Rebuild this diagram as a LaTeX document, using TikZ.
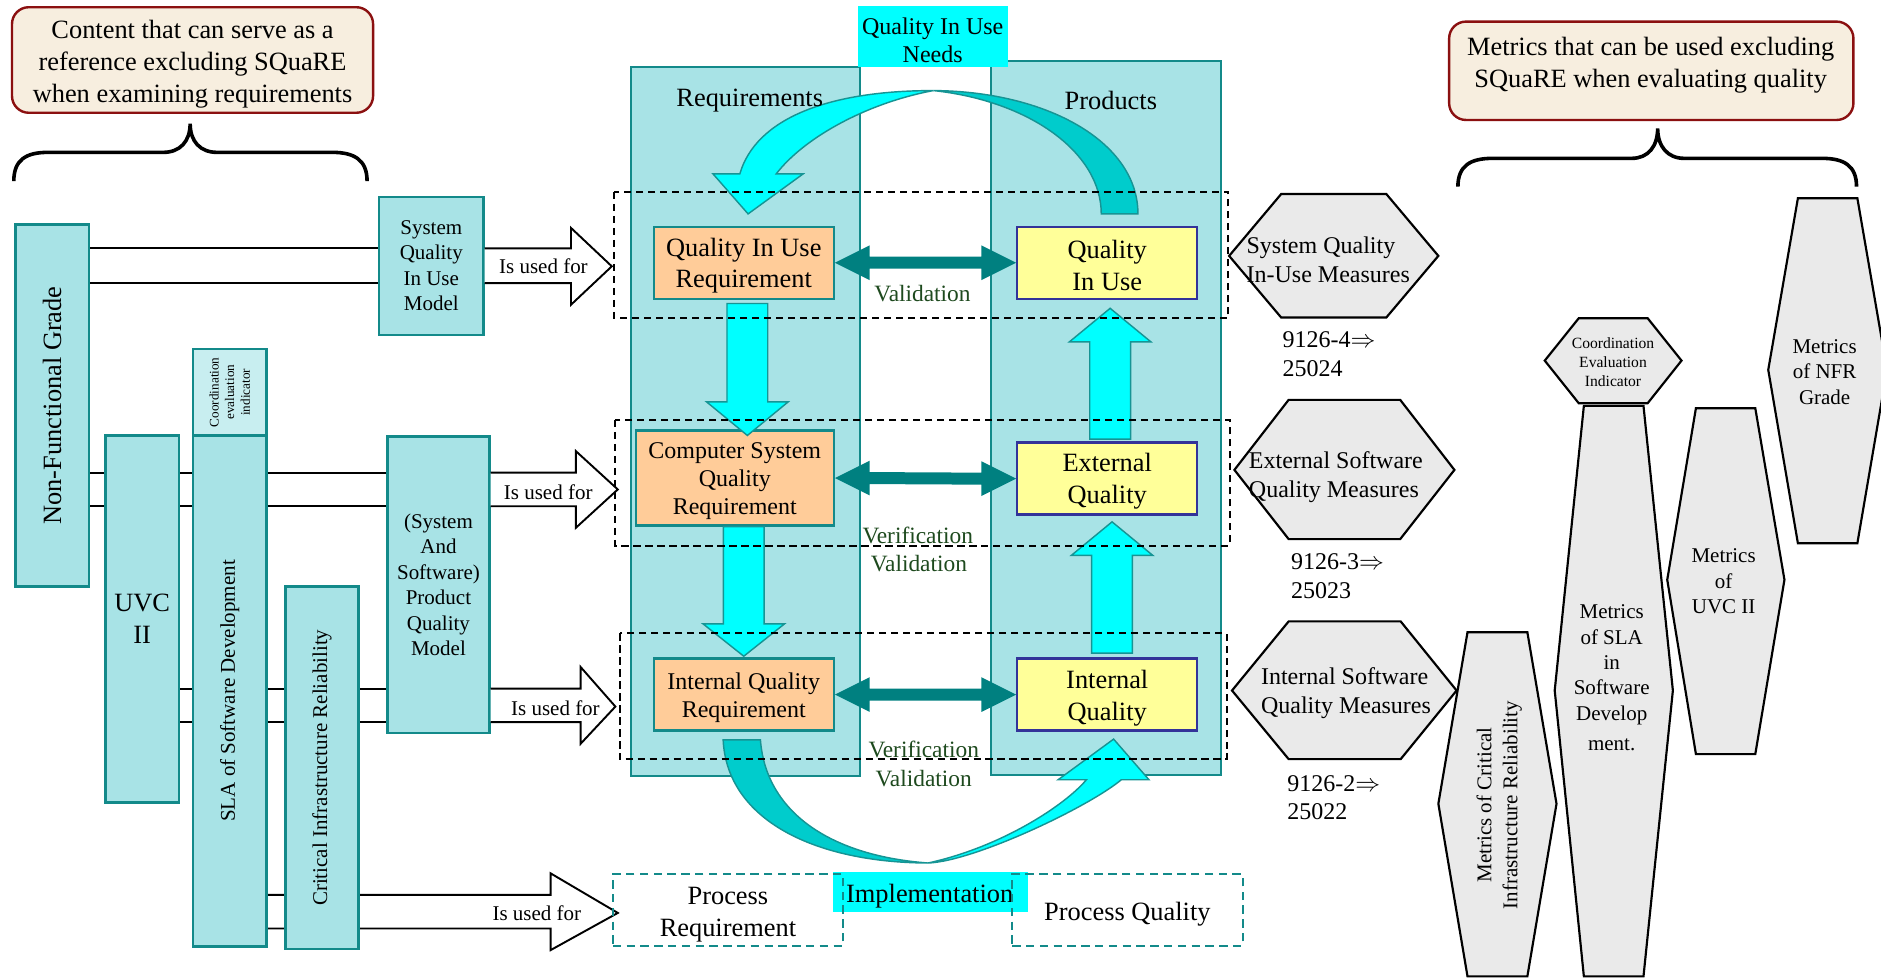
\documentclass[tikz,border=0pt]{standalone}
\usepackage{fontspec}
\setmainfont{Liberation Serif}
\usetikzlibrary{calc}
\pgfdeclarelayer{bgl}
\pgfsetlayers{bgl,main}
\definecolor{tealfill}{HTML}{A8E3E6}
\definecolor{coordfill}{HTML}{C8EEF0}
\definecolor{tealline}{HTML}{138A8A}
\definecolor{orangefill}{HTML}{FFCC99}
\definecolor{yellowfill}{HTML}{FFFF99}
\definecolor{blueline}{HTML}{333399}
\definecolor{cyanA}{HTML}{00FFFF}
\definecolor{cyanB}{HTML}{00CCCC}
\definecolor{arrowline}{HTML}{169494}
\definecolor{dteal}{HTML}{008080}
\definecolor{hexfill}{HTML}{EAEAEA}
\definecolor{calloutfill}{HTML}{F7EEDF}
\definecolor{calloutline}{HTML}{8B1010}
\definecolor{greentext}{HTML}{1E4A1E}
\newcommand\szA{\fontsize{22}{26.5}\selectfont}
\newcommand\szAA{\fontsize{22}{27}\selectfont}
\newcommand\szB{\fontsize{17.5}{21.2}\selectfont}
\newcommand\szC{\fontsize{20}{24}\selectfont}
\newcommand\szCC{\fontsize{20}{23.6}\selectfont}
\newcommand\szG{\fontsize{19.5}{24}\selectfont}
\newcommand\szD{\fontsize{13}{15.7}\selectfont}
\newcommand\szE{\fontsize{11}{13}\selectfont}
\newcommand\dblarr[2]{\fill[dblarrow] (#1) -- ++(29,-14.5) -- ++(0,9.5) -- ($(#2)+(-29,-5)$) -- ++(0,-9.5) -- (#2) -- ++(-29,14.5) -- ++(0,-9.5) -- ($(#1)+(29,5)$) -- ++(0,9.5) -- cycle;}
\newcommand\vblock[3]{\draw[blockarrow] let \p1=#1, \p2=#2 in (\x2-17pt,\y1) -- (\x2+17pt,\y1) -- (\x2+17pt,\y2#3) -- (\x2+34pt,\y2#3) -- (\x2,\y2) -- (\x2-34pt,\y2#3) -- (\x2-17pt,\y2#3) -- cycle;}
\begin{document}
\begin{tikzpicture}[x=1pt,y=-1pt,
  tbox/.style={draw=tealline, fill=tealfill, line width=2pt, inner sep=0pt, align=center},
  cbox/.style={draw=tealline, fill=coordfill, line width=2pt, inner sep=0pt},
  obox/.style={draw=tealline, fill=orangefill, line width=2pt, inner sep=0pt},
  ybox/.style={draw=blueline, fill=yellowfill, line width=2pt, inner sep=0pt},
  txt/.style={inner sep=0pt, align=center},
  usedtxt/.style={inner sep=0pt, font=\szB},
  openarrow/.style={draw=black, fill=white, line width=1.6pt, line join=miter},
  shaft/.style={draw=black, line width=1.6pt},
  blockarrow/.style={fill=cyanA, draw=arrowline, line width=1.2pt, line join=miter},
  darkband/.style={fill=cyanB, draw=arrowline, line width=1.2pt, line join=miter},
  dblarrow/.style={fill=dteal},
  dashrect/.style={draw=black, line width=1.6pt, dash pattern=on 6pt off 4pt},
  procbox/.style={draw=tealline, line width=1.6pt, dash pattern=on 7pt off 4.5pt, inner sep=0pt},
  hexa/.style={fill=hexfill, draw=black, line width=1.8pt, line join=miter},
  callout/.style={draw=calloutline, fill=calloutfill, line width=2pt, rounded corners=14pt, inner sep=0pt},
  bracel/.style={draw=black, line width=3pt},
  greenlab/.style={text=greentext, font=\szG, inner sep=0pt}
]
\useasboundingbox (0,0) rectangle (1568,815);
\begin{pgfonlayer}{bgl}
\fill[white] (0,0) rectangle (1568,815);
\end{pgfonlayer}

% ---------- callouts and braces ----------
\node[callout, minimum width=301pt, minimum height=88pt, anchor=north west] (calloutL) at (9,5) {};
\node[txt, font=\szAA] (calloutLt) at ($(calloutL.center)+(0,3.5)$) {Content that can serve as a\\reference excluding SQuaRE\\when examining requirements};
\node[callout, minimum width=337pt, minimum height=82pt, anchor=north west] (calloutR) at (1207,17) {};
\node[txt, font=\szAA] (calloutRt) at (1376,54.5) {Metrics that can be used excluding\\SQuaRE when evaluating quality};

\draw[bracel] (11.5,151) .. controls (11.5,133) and (22,127) .. (40,127) -- (136,127)
  .. controls (150,127) and (158.5,118) .. (158.5,103)
  .. controls (158.5,118) and (167,127) .. (181,127) -- (277,127)
  .. controls (295,127) and (306,133) .. (306,151);
\draw[bracel] (1215.3,155.6) .. controls (1215.3,138) and (1226,132) .. (1244,132) -- (1360,132)
  .. controls (1374,132) and (1381.8,122) .. (1381.8,107)
  .. controls (1381.8,122) and (1390,132) .. (1404,132) -- (1519,132)
  .. controls (1537,132) and (1547.6,138) .. (1547.6,155.6);

% ---------- left boxes ----------
\node[tbox, minimum width=61pt, minimum height=302pt, anchor=north west] (nfg) at (12,186) {};
\node[txt, rotate=90, font=\szA] (nfgt) at (nfg.center) {Non-Functional Grade};
\node[cbox, minimum width=61pt, minimum height=72pt, anchor=north west] (coord) at (160,290) {};
\node[txt, rotate=90, font=\szE] (coordt) at (coord.center) {Coordination\\evaluation\\indicator};
\node[tbox, minimum width=61pt, minimum height=306pt, anchor=north west, font=\szA] (uvc) at (87,362) {UVC\\II};
\node[tbox, minimum width=61pt, minimum height=426pt, anchor=north west] (sla) at (160,362) {};
\node[txt, rotate=90, font=\szB] (slat) at (sla.center) {SLA of Software Development};
\node[tbox, minimum width=61pt, minimum height=302pt, anchor=north west] (cir) at (237,488) {};
\node[txt, rotate=90, font=\szB] (cirt) at (cir.center) {Critical Infrastructure Reliability};
\node[tbox, minimum width=87pt, minimum height=115pt, anchor=north west, font=\szB] (sqm) at (315,163) {System\\Quality\\In Use\\Model};
\node[tbox, minimum width=85pt, minimum height=247pt, anchor=north west, font=\szB] (pqm) at (322,363) {(System\\And\\Software)\\Product\\Quality\\Model};

% ---------- shafts behind boxes ----------
\begin{pgfonlayer}{bgl}
\draw[shaft] (nfg.east |- 0,207) -- (sqm.west |- 0,207);
\draw[shaft] (nfg.east |- 0,236) -- (sqm.west |- 0,236);
\draw[shaft] (nfg.east |- 0,394) -- (pqm.west |- 0,394);
\draw[shaft] (nfg.east |- 0,422) -- (pqm.west |- 0,422);
\draw[shaft] (uvc.east |- 0,574) -- (pqm.west |- 0,574);
\draw[shaft] (uvc.east |- 0,602) -- (pqm.west |- 0,602);
\draw[openarrow] (sla.east |- 0,746) -- (459,746) -- (459,728) -- (515,761) -- (459,792) -- (459,774) -- (sla.east |- 0,774);
\end{pgfonlayer}

% ---------- "Is used for" arrows ----------
\draw[openarrow] (sqm.east |- 0,207) -- (476,207) -- (476,190) -- (510,222) -- (476,254) -- (476,236) -- (sqm.east |- 0,236);
\node[usedtxt] (used1) at (453,222) {Is used for};
\draw[openarrow] (pqm.east |- 0,394) -- (480,394) -- (480,376) -- (515,408) -- (480,440) -- (480,422) -- (pqm.east |- 0,422);
\node[usedtxt] (used2) at (457,410) {Is used for};
\draw[openarrow] (pqm.east |- 0,574) -- (484,574) -- (484,556) -- (513,589) -- (484,620) -- (484,602) -- (pqm.east |- 0,602);
\node[usedtxt] (used3) at (463,590) {Is used for};
\node[usedtxt] (used4) at (447.5,761) {Is used for};

% ---------- columns ----------
\node[tbox, minimum width=191pt, minimum height=591pt, anchor=north west] (reqcol) at (525,55) {};
\node[tbox, minimum width=192pt, minimum height=595pt, anchor=north west] (prodcol) at (825,50) {};
\node[fill=cyanA, inner sep=0pt, minimum width=125pt, minimum height=51pt, anchor=north west] (qiunbox) at (715,5) {};
\node[txt, font=\fontsize{20}{23.3}\selectfont] (qiunt) at (777.5,33.3) {Quality In Use\\Needs};

% ---------- curved arrows ----------
\draw[darkband] (918,178.3) -- (948.6,178.3) .. controls (948.6,118) and (872,76) .. (778,75.5)
  .. controls (858,84) and (918,127) .. (918,178.3) -- cycle;
\draw[blockarrow] (616.7,145) .. controls (630,99) and (690,75.5) .. (778,75.5)
  .. controls (722,86) and (670,115) .. (647,145) -- (669.4,145) -- (623.6,178.3) -- (594.4,145) -- cycle;
\draw[darkband] (602.8,616.7) -- (633.9,616.7) .. controls (638,674) and (688,713) .. (773.6,719.4)
  .. controls (680,719) and (606,684) .. (602.8,616.7) -- cycle;
\draw[blockarrow] (773.6,719.4) .. controls (812,718) and (907,673) .. (934.7,650) -- (957.8,650)
  -- (928.3,616.1) -- (882,650) -- (905.6,650) .. controls (888,671) and (835,706) .. (773.6,719.4) -- cycle;

\node[txt, font=\szA] (reqlab) at (625,84) {Requirements};
\node[txt, font=\szA] (prodlab) at (926,84) {Products};

% ---------- requirement / product boxes ----------
\node[obox, minimum width=150pt, minimum height=60pt, anchor=north west] (qiur) at (544,188) {};
\node[txt, font=\szA] (qiurt) at ($(qiur.center)+(0,2.5)$) {Quality In Use\\Requirement};
\node[ybox, minimum width=150pt, minimum height=60pt, anchor=north west] (qiu) at (847,188) {};
\node[txt, font=\szA] (qiut) at ($(qiu.center)+(0,2.5)$) {Quality\\In Use};
\node[obox, minimum width=165pt, minimum height=79pt, anchor=north west] (csqr) at (529,358) {};
\node[txt, font=\szCC] (csqrt) at ($(csqr.center)+(0,2.5)$) {Computer System\\Quality\\Requirement};
\node[ybox, minimum width=150pt, minimum height=60pt, anchor=north west] (eq) at (847,368) {};
\node[txt, font=\szA] (eqt) at ($(eq.center)+(0,2.2)$) {External\\Quality};
\node[obox, minimum width=150pt, minimum height=60pt, anchor=north west] (iqr) at (544,548) {};
\node[txt, font=\szCC] (iqrt) at ($(iqr.center)+(0,2.8)$) {Internal Quality\\Requirement};
\node[ybox, minimum width=150pt, minimum height=60pt, anchor=north west] (iq) at (847,548) {};
\node[txt, font=\szA] (iqt) at ($(iq.center)+(0,2.8)$) {Internal\\Quality};

\vblock{($(qiur.south)+(0,3)$)}{($(qiur.south |- csqr.north)+(3,5)$)}{+28pt}
\vblock{(csqr.south)}{($(iqr.north)+(0,-1)$)}{+27pt}
\vblock{($(eq.north)+(0,-2)$)}{($(qiu.south)+(2.4,7)$)}{-28pt}
\vblock{($(iq.north)+(0,-3.5)$)}{($(eq.south)+(4,5)$)}{-28pt}

\dblarr{qiur.east}{qiu.west}
\dblarr{csqr.east}{eq.west}
\dblarr{iqr.east}{iq.west}

% ---------- dashed groups ----------
\draw[dashrect] (512,160) rectangle (1024,265);
\draw[dashrect] (513,350) rectangle (1025,455);
\draw[dashrect] (516.5,528) rectangle (1022.6,633);

\node[greenlab] (val1) at (769,244.4) {Validation};
\node[greenlab] (ver2) at (765,446) {Verification};
\node[greenlab] (val2) at (766,470) {Validation};
\node[greenlab] (ver3) at (770,624.4) {Verification};
\node[greenlab] (val3) at (770,648.6) {Validation};

% ---------- process row ----------
\node[fill=cyanA, inner sep=0pt, minimum width=163pt, minimum height=33pt, anchor=north west] (implbox) at (694,727) {};
\node[txt, font=\szA] (implt) at (775,747) {Implementation};
\node[procbox, minimum width=192pt, minimum height=59.5pt, anchor=north west] (preq) at (510,728) {};
\node[txt, font=\szA] (preqt) at ($(preq.center)+(0,4)$) {Process\\Requirement};
\node[procbox, minimum width=192pt, minimum height=59.5pt, anchor=north west] (pq) at (843,728) {};
\node[txt, font=\szA] (pqt) at ($(pq.center)+(0,3.5)$) {Process Quality};

% ---------- measures hexagons ----------
\draw[hexa] (1024.6,213.3) -- (1068,161.7) -- (1155.6,161.7) -- (1199,213.3) -- (1155.6,264.7) -- (1068,264.7) -- cycle;
\node[txt, align=left, anchor=west, font=\szC] (h1t) at (1039,216.5) {System Quality\\In-Use Measures};
\node[txt, align=left, anchor=west, font=\szC] (n1) at (1069,295) {9126-4$\Rightarrow$\\25024};
\draw[hexa] (1029,391.7) -- (1074.2,333.3) -- (1167.2,333.3) -- (1212.4,391.7) -- (1167.2,449.4) -- (1074.2,449.4) -- cycle;
\node[txt, align=left, anchor=west, font=\szC] (h2t) at (1040.9,397.5) {External Software\\Quality Measures};
\node[txt, align=left, anchor=west, font=\szC] (n2) at (1076,480) {9126-3$\Rightarrow$\\25023};
\draw[hexa] (1027,575.6) -- (1074.2,518) -- (1167.6,518) -- (1214.2,575.6) -- (1167.6,632.8) -- (1074.2,632.8) -- cycle;
\node[txt, align=left, anchor=west, font=\szC] (h3t) at (1051,577.5) {Internal Software\\Quality Measures};
\node[txt, align=left, anchor=west, font=\szC] (n3) at (1073,665) {9126-2$\Rightarrow$\\25022};

% ---------- metrics shapes ----------
\draw[hexa] (1287.7,300.6) -- (1316,265.3) -- (1373.5,265.3) -- (1401.7,300.6) -- (1373.5,336.1) -- (1316,336.1) -- cycle;
\node[txt, font=\szD] (h4t) at (1344.6,301.9) {Coordination\\Evaluation\\Indicator};
\draw[hexa] (1320.3,338.3) -- (1370,338.3) -- (1394.5,575.6) -- (1370,813.9) -- (1320.3,813.9) -- (1296,575.6) -- cycle;
\node[txt, font=\szB] (m1t) at (1343.5,565) {Metrics\\of SLA\\in\\Software\\Develop\\[4pt]ment.};
\draw[hexa] (1413.7,340.3) -- (1463.2,340.3) -- (1487.5,483.3) -- (1463.2,628.6) -- (1413.7,628.6) -- (1389.8,483.3) -- cycle;
\node[txt, font=\szB] (m2t) at (1436.8,484.7) {Metrics\\of\\UVC II};
\draw[hexa] (1498.7,165.3) -- (1548.3,165.3) -- (1573,308.3) -- (1548.3,452.8) -- (1498.7,452.8) -- (1474,308.3) -- cycle;
\node[txt, font=\szB] (m3t) at (1521,310) {Metrics\\of NFR\\Grade};
\draw[hexa] (1223.3,527) -- (1273.2,527) -- (1297.5,670) -- (1273.2,813.9) -- (1223.3,813.9) -- (1199,670) -- cycle;
\node[txt, rotate=90, font=\fontsize{17.5}{21.7}\selectfont] (m4t) at (1249.7,671) {Metrics of Critical\\Infrastructure Reliability};
\end{tikzpicture}
\end{document}
